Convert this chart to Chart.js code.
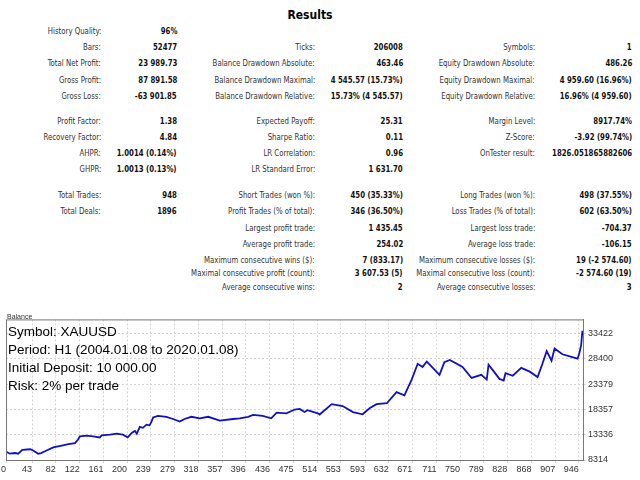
<!DOCTYPE html>
<html>
<head>
<meta charset="utf-8">
<script src="https://cdn.jsdelivr.net/npm/chart.js@4"></script>
<style>
  body { margin: 0; background: #fff; width: 640px; height: 480px; overflow: hidden; position: relative; font-family: "DejaVu Sans Condensed", sans-serif; }
  .t { position: absolute; font-size: 9px; white-space: nowrap; line-height: 12px; transform: scaleX(0.86); transform-origin: right center; }
  .lab { color: #333; text-align: right; }
  .val { color: #111; font-weight: bold; text-align: right; }
  #title { position: absolute; left: 0; width: 620px; top: 8px; text-align: center; font: bold 12px "DejaVu Sans Condensed", sans-serif; }
  #chartBox { position: absolute; left: 0; top: 312px; width: 640px; height: 168px; }
  .info { position: absolute; left: 8px; font: 13.5px "Liberation Sans", Arial, sans-serif; color: #000; white-space: nowrap; }
</style>
</head>
<body>
<div id="title">Results</div>
<div id="report"></div>
<div id="chartBox"><canvas id="balanceChart" width="640" height="168"></canvas></div>
<div style="position:absolute;left:7px;top:313px;font:7px 'Liberation Sans',sans-serif;color:#333">Balance</div>
<div class="info" style="top:324px">Symbol: XAUUSD</div>
<div class="info" style="top:342px">Period: H1 (2004.01.08 to 2020.01.08)</div>
<div class="info" style="top:360px">Initial Deposit: 10 000.00</div>
<div class="info" style="top:378px">Risk: 2% per trade</div>
<script>
// --- REPORT TEXT ---
// [column, row y, label, value]
const reportRows = [
    [0, 31, 'History Quality:', '96%'],
    [0, 47, 'Bars:', '52477'],
    [1, 47, 'Ticks:', '206008'],
    [2, 47, 'Symbols:', '1'],
    [0, 63, 'Total Net Profit:', '23 989.73'],
    [1, 63, 'Balance Drawdown Absolute:', '463.46'],
    [2, 63, 'Equity Drawdown Absolute:', '486.26'],
    [0, 80, 'Gross Profit:', '87 891.58'],
    [1, 80, 'Balance Drawdown Maximal:', '4 545.57 (15.73%)'],
    [2, 80, 'Equity Drawdown Maximal:', '4 959.60 (16.96%)'],
    [0, 96, 'Gross Loss:', '-63 901.85'],
    [1, 96, 'Balance Drawdown Relative:', '15.73% (4 545.57)'],
    [2, 96, 'Equity Drawdown Relative:', '16.96% (4 959.60)'],
    [0, 121, 'Profit Factor:', '1.38'],
    [1, 121, 'Expected Payoff:', '25.31'],
    [2, 121, 'Margin Level:', '8917.74%'],
    [0, 137, 'Recovery Factor:', '4.84'],
    [1, 137, 'Sharpe Ratio:', '0.11'],
    [2, 137, 'Z-Score:', '-3.92 (99.74%)'],
    [0, 153, 'AHPR:', '1.0014 (0.14%)'],
    [1, 153, 'LR Correlation:', '0.96'],
    [2, 153, 'OnTester result:', '1826.051865882606'],
    [0, 169, 'GHPR:', '1.0013 (0.13%)'],
    [1, 169, 'LR Standard Error:', '1 631.70'],
    [0, 195, 'Total Trades:', '948'],
    [1, 195, 'Short Trades (won %):', '450 (35.33%)'],
    [2, 195, 'Long Trades (won %):', '498 (37.55%)'],
    [0, 211, 'Total Deals:', '1896'],
    [1, 211, 'Profit Trades (% of total):', '346 (36.50%)'],
    [2, 211, 'Loss Trades (% of total):', '602 (63.50%)'],
    [1, 228, 'Largest profit trade:', '1 435.45'],
    [2, 228, 'Largest loss trade:', '-704.37'],
    [1, 244, 'Average profit trade:', '254.02'],
    [2, 244, 'Average loss trade:', '-106.15'],
    [1, 260, 'Maximum consecutive wins ($):', '7 (833.17)'],
    [2, 260, 'Maximum consecutive losses ($):', '19 (-2 574.60)'],
    [1, 273, 'Maximal consecutive profit (count):', '3 607.53 (5)'],
    [2, 273, 'Maximal consecutive loss (count):', '-2 574.60 (19)'],
    [1, 287, 'Average consecutive wins:', '2'],
    [2, 287, 'Average consecutive losses:', '3']
];
const labelRight = [101, 315, 535];
const valueRight = [177, 403, 632];

const report = document.getElementById('report');
reportRows.forEach(r => {
    const lab = document.createElement('div');
    lab.className = 't lab';
    lab.style.right = (640 - labelRight[r[0]]) + 'px';
    lab.style.top = (r[1] - 6) + 'px';
    lab.textContent = r[2];
    report.appendChild(lab);
    const val = document.createElement('div');
    val.className = 't val';
    val.style.right = (640 - valueRight[r[0]]) + 'px';
    val.style.top = (r[1] - 6) + 'px';
    val.textContent = r[3];
    report.appendChild(val);
});

// --- BALANCE CURVE (trade #, balance) ---
const tradeNo = [0, 6, 15, 20, 27, 40, 45, 53, 58, 67, 78, 86, 94, 103, 114, 119, 122, 133, 144, 155, 158, 172, 183, 193, 201, 208, 213, 216, 221, 226, 232, 237, 240, 243, 251, 265, 276, 287, 295, 306, 320, 334, 353, 375, 386, 400, 408, 424, 438, 447, 463, 477, 485, 493, 498, 515, 518, 538, 556, 573, 589, 601, 612, 629, 645, 658, 670, 680, 688, 695, 716, 724, 733, 754, 769, 785, 794, 797, 804, 815, 822, 825, 837, 851, 865, 878, 886, 893, 901, 906, 919, 934, 944, 947, 950, 952];
const balance = [10000, 9570, 9700, 9570, 10330, 10450, 10200, 9570, 9700, 10200, 10820, 11030, 11240, 11450, 11660, 12390, 13010, 13140, 13010, 12800, 13220, 13350, 13540, 13350, 12830, 13750, 14080, 13540, 14890, 14700, 15330, 15200, 15830, 16770, 17090, 16900, 16460, 15960, 16460, 16900, 16590, 16900, 16150, 16460, 16590, 16900, 17280, 17090, 16590, 17710, 17590, 18340, 18460, 17840, 18210, 17590, 17340, 19400, 19030, 17840, 17400, 18650, 19400, 19590, 21790, 21160, 24290, 27430, 26800, 27870, 25230, 27730, 28190, 26800, 24610, 25230, 24290, 27240, 26170, 24420, 24100, 25550, 25050, 26610, 25860, 24800, 27430, 29930, 28050, 30440, 29310, 28800, 28430, 29560, 31190, 33990];
const xTicks = [0, 43, 82, 122, 161, 200, 239, 279, 318, 357, 396, 436, 475, 514, 553, 593, 632, 671, 711, 750, 789, 828, 868, 907, 946];
const yTicks = [8314, 13336, 18357, 23379, 28400, 33422];

const framePlugin = {
    id: 'frame',
    afterDraw(chart) {
        const a = chart.chartArea, ctx = chart.ctx;
        ctx.save();
        ctx.strokeStyle = '#777';
        ctx.lineWidth = 1;
        ctx.strokeRect(a.left + 0.5, a.top + 0.5, a.right - a.left, a.bottom - a.top);
        ctx.restore();
    }
};

new Chart(document.getElementById('balanceChart'), {
    type: 'line',
    data: {
        datasets: [{
            data: tradeNo.map((t, i) => ({ x: t, y: balance[i] })),
            borderColor: '#1010c8',
            borderWidth: 1.8,
            pointRadius: 0,
            tension: 0,
            fill: false
        }]
    },
    options: {
        responsive: false,
        animation: false,
        layout: { padding: { left: 5, top: 2, right: 0, bottom: 0 } },
        plugins: { legend: { display: false }, tooltip: { enabled: false } },
        scales: {
            x: {
                type: 'linear', min: 0, max: 953,
                afterBuildTicks: s => { s.ticks = xTicks.map(v => ({ value: v })); },
                afterFit: s => { s.height = 20; },
                grid: { color: '#d4d4d4', tickLength: 3 },
                border: { color: '#777', dash: [2, 2] },
                ticks: { autoSkip: false, maxRotation: 0, align: 'end', padding: 1, color: '#333', font: { size: 9, family: 'Liberation Sans' }, callback: v => String(v) }
            },
            y: {
                position: 'right', min: 8314, max: 36240,
                afterBuildTicks: s => { s.ticks = yTicks.map(v => ({ value: v })); },
                afterFit: s => { s.width = 57; },
                grid: { color: '#d4d4d4', tickLength: 3 },
                border: { color: '#777', dash: [2, 2] },
                ticks: { padding: 2, color: '#333', font: { size: 9, family: 'Liberation Sans' }, callback: v => String(v) }
            }
        }
    },
    plugins: [framePlugin]
});
</script>
</body>
</html>
